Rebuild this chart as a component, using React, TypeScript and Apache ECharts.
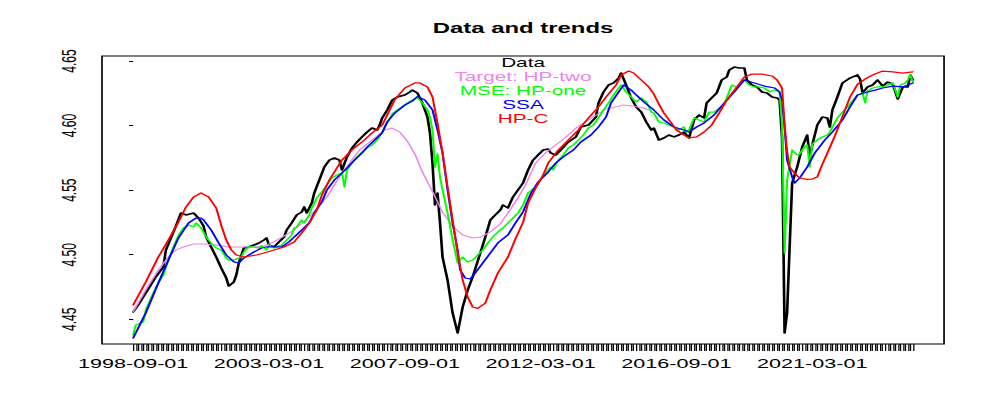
import React, { useEffect, useRef } from "react";
import * as echarts from "echarts";

// Month index 0 = 1998-09-01, last index 310 = 2024-07-01
const monthCount = 311;
const xTickMonths = [0, 54, 108, 162, 216, 270];
const xTickLabels = ["1998-09-01", "2003-03-01", "2007-09-01", "2012-03-01", "2016-09-01", "2021-03-01"];
const yTickValues = [4.45, 4.5, 4.55, 4.6, 4.65];
const yTickLabels = ["4.45", "4.50", "4.55", "4.60", "4.65"];

const chartTitle = "Data and trends";
const seriesNames = ["Data", "Target: HP-two", "MSE: HP-one", "SSA", "HP-C"];
const seriesColors = ["#000000", "#EE82EE", "#00FF00", "#0000FF", "#FF0000"];

// [month index, value]
const dataValues: [number, number][] = [
  [0, 4.4557], [2, 4.4611], [5, 4.4704], [9, 4.4828], [12, 4.4905], [13, 4.5037], [15, 4.513], [17, 4.5222],
  [19, 4.5323], [21, 4.5308], [24, 4.5323], [26, 4.5284], [28, 4.5222], [29, 4.5137], [31, 4.506], [33, 4.4982],
  [35, 4.4897], [37, 4.482], [38, 4.4758], [40, 4.4789], [41, 4.4843], [42, 4.4936], [44, 4.5052], [46, 4.506],
  [48, 4.5075], [50, 4.5091], [52, 4.5114], [53, 4.513], [54, 4.5075], [56, 4.506], [58, 4.5099], [60, 4.5137],
  [61, 4.5191], [63, 4.5246], [65, 4.5308], [67, 4.5331], [68, 4.537], [69, 4.5323], [71, 4.54], [72, 4.5478],
  [74, 4.5579], [76, 4.5679], [78, 4.5733], [80, 4.5749], [82, 4.5733], [83, 4.5656], [85, 4.5757], [87, 4.5826],
  [89, 4.5873], [91, 4.5912], [93, 4.595], [95, 4.5981], [97, 4.5966], [98, 4.6004], [99, 4.6059], [101, 4.6121],
  [103, 4.6198], [105, 4.6221], [108, 4.6237], [110, 4.626], [111, 4.6275], [113, 4.6252], [115, 4.6175], [117, 4.6066],
  [118, 4.5943], [119, 4.571], [120, 4.5385], [121, 4.5478], [122, 4.5246], [123, 4.4982], [125, 4.4804], [127, 4.4549],
  [129, 4.4394], [131, 4.4595], [133, 4.4727], [135, 4.4828], [138, 4.5013], [140, 4.5137], [142, 4.5269], [144, 4.5308],
  [146, 4.5346], [147, 4.5385], [149, 4.5362], [151, 4.5447], [153, 4.5501], [155, 4.5555], [157, 4.5656], [159, 4.5733],
  [161, 4.5772], [163, 4.5811], [165, 4.5818], [166, 4.5788], [168, 4.5772], [170, 4.5811], [173, 4.5873], [176, 4.5912],
  [178, 4.5989], [181, 4.6004], [184, 4.6066], [185, 4.6175], [187, 4.626], [189, 4.6314], [191, 4.633], [193, 4.6368],
  [194, 4.6407], [196, 4.6314], [198, 4.6214], [200, 4.6144], [202, 4.6105], [204, 4.6028], [206, 4.5966], [207, 4.5981],
  [209, 4.5888], [211, 4.5904], [213, 4.5927], [215, 4.5912], [217, 4.5927], [219, 4.595], [221, 4.5904], [223, 4.6043],
  [225, 4.6082], [227, 4.6059], [228, 4.6175], [230, 4.6214], [232, 4.6252], [234, 4.6353], [236, 4.6376], [237, 4.643],
  [239, 4.6453], [241, 4.6446], [243, 4.6446], [244, 4.6353], [246, 4.6314], [248, 4.6299], [250, 4.626], [252, 4.6252],
  [254, 4.6221], [256, 4.6214], [257, 4.6198], [258, 4.59], [259, 4.4394], [260, 4.4549], [261, 4.506], [262, 4.5555],
  [264, 4.5679], [266, 4.5834], [268, 4.5927], [269, 4.5749], [270, 4.585], [272, 4.6004], [274, 4.6066], [276, 4.6059],
  [277, 4.5989], [278, 4.6121], [280, 4.6221], [282, 4.633], [285, 4.6368], [288, 4.6392], [289, 4.636], [290, 4.6252],
  [292, 4.6299], [294, 4.6314], [296, 4.6353], [298, 4.6306], [300, 4.6337], [302, 4.6322], [304, 4.6206], [306, 4.6299],
  [308, 4.6299], [309, 4.6392], [310, 4.6353],
];

const targetHpTwoValues: [number, number][] = [
  [0, 4.4557], [5, 4.4727], [10, 4.4882], [14, 4.4982], [17, 4.5037], [20, 4.506], [24, 4.5083], [28, 4.5083],
  [33, 4.5075], [38, 4.506], [43, 4.506], [48, 4.506], [52, 4.5068], [56, 4.5099], [64, 4.5191], [70, 4.5292],
  [77, 4.5447], [83, 4.5633], [90, 4.5811], [95, 4.5888], [100, 4.5966], [103, 4.5981], [106, 4.595], [109, 4.588],
  [112, 4.578], [115, 4.564], [119, 4.549], [123, 4.533], [127, 4.522], [131, 4.5153], [135, 4.513], [138, 4.5137],
  [142, 4.5176], [146, 4.524], [149, 4.5323], [153, 4.5439], [156, 4.554], [160, 4.571], [164, 4.579], [168, 4.585],
  [172, 4.591], [176, 4.598], [180, 4.603], [184, 4.608], [188, 4.613], [191, 4.614], [195, 4.616], [199, 4.615],
  [203, 4.6136], [205, 4.612],
];

const mseHpOneValues: [number, number][] = [
  [0, 4.4379], [1, 4.4456], [4, 4.4479], [5, 4.4572], [8, 4.4704], [10, 4.4781], [12, 4.4843], [14, 4.4959],
  [16, 4.506], [18, 4.515], [20, 4.5207], [22, 4.523], [24, 4.5215], [25, 4.5246], [27, 4.5207], [29, 4.5137],
  [31, 4.5091], [33, 4.5052], [35, 4.5037], [37, 4.4975], [38, 4.4959], [40, 4.4959], [43, 4.4982], [44, 4.5021],
  [46, 4.506], [48, 4.506], [50, 4.5052], [51, 4.507], [53, 4.5037], [54, 4.5075], [56, 4.5052], [59, 4.5075],
  [61, 4.5114], [63, 4.5153], [64, 4.5207], [65, 4.5215], [67, 4.5269], [68, 4.5246], [70, 4.5308], [71, 4.5362],
  [73, 4.5439], [75, 4.5486], [77, 4.554], [79, 4.5594], [81, 4.5617], [83, 4.5633], [84, 4.5524], [85, 4.5656],
  [87, 4.571], [89, 4.5757], [91, 4.5795], [93, 4.5826], [95, 4.585], [97, 4.5888], [99, 4.595], [100, 4.5989],
  [103, 4.609], [105, 4.6121], [108, 4.6159], [111, 4.6198], [113, 4.6214], [115, 4.6175], [117, 4.6121], [118, 4.6066],
  [119, 4.5966], [120, 4.5679], [121, 4.578], [122, 4.56], [123, 4.5501], [125, 4.5323], [127, 4.5114], [129, 4.4936],
  [130, 4.4959], [131, 4.4982], [133, 4.4944], [135, 4.4959], [137, 4.4998], [139, 4.5037], [141, 4.5091], [143, 4.5137],
  [145, 4.5176], [147, 4.5207], [149, 4.5246], [151, 4.5284], [153, 4.5323], [155, 4.5385], [157, 4.5478], [160, 4.5524],
  [162, 4.5579], [164, 4.5633], [166, 4.5679], [167, 4.5656], [169, 4.5733], [171, 4.5772], [173, 4.5826], [175, 4.585],
  [177, 4.5888], [179, 4.5927], [181, 4.5981], [183, 4.6004], [185, 4.6059], [187, 4.6121], [189, 4.6175], [191, 4.6237],
  [193, 4.6291], [194, 4.6314], [196, 4.626], [198, 4.6221], [200, 4.6183], [202, 4.6214], [204, 4.6183], [206, 4.6105],
  [207, 4.6097], [209, 4.6028], [211, 4.602], [213, 4.6004], [215, 4.5989], [217, 4.5966], [219, 4.5989], [220, 4.595],
  [221, 4.5966], [223, 4.6059], [225, 4.6043], [227, 4.6028], [229, 4.6105], [231, 4.6105], [233, 4.6136], [235, 4.6159],
  [236, 4.6214], [238, 4.6314], [240, 4.6299], [242, 4.6337], [243, 4.6353], [245, 4.6314], [247, 4.6299], [249, 4.6299],
  [251, 4.6291], [253, 4.626], [255, 4.6275], [257, 4.626], [258, 4.6], [259, 4.5013], [260, 4.5579], [262, 4.5811],
  [263, 4.579], [264, 4.5772], [265, 4.578], [266, 4.5811], [267, 4.5834], [268, 4.585], [269, 4.5679], [270, 4.5857],
  [272, 4.5888], [274, 4.5912], [276, 4.5927], [277, 4.595], [278, 4.5989], [280, 4.6059], [282, 4.6105], [284, 4.6144],
  [286, 4.619], [288, 4.6237], [290, 4.6252], [291, 4.6175], [292, 4.6268], [294, 4.6291], [296, 4.6299], [298, 4.6299],
  [300, 4.6314], [302, 4.633], [304, 4.6221], [305, 4.6314], [307, 4.633], [308, 4.6353], [309, 4.6392], [310, 4.6337],
];

const ssaValues: [number, number][] = [
  [0, 4.4355], [5, 4.4549], [10, 4.4781], [14, 4.4959], [18, 4.513], [22, 4.5246], [25, 4.5284], [27, 4.5284],
  [28, 4.5269], [31, 4.5191], [34, 4.5091], [37, 4.4998], [40, 4.4944], [42, 4.4936], [44, 4.4975], [48, 4.5021],
  [51, 4.5052], [53, 4.506], [56, 4.506], [59, 4.506], [62, 4.5099], [64, 4.5137], [67, 4.5191], [70, 4.5246],
  [72, 4.5323], [75, 4.5408], [77, 4.5501], [80, 4.5579], [83, 4.5633], [85, 4.5671], [88, 4.5733], [91, 4.5788],
  [93, 4.5834], [96, 4.5888], [99, 4.5943], [101, 4.6028], [104, 4.6097], [108, 4.6159], [111, 4.619], [113, 4.6225],
  [116, 4.6198], [119, 4.6121], [121, 4.5966], [123, 4.5788], [125, 4.5501], [127, 4.5246], [129, 4.5037], [130, 4.4882],
  [132, 4.482], [134, 4.4812], [136, 4.4858], [139, 4.4936], [142, 4.5013], [145, 4.5091], [149, 4.5153], [152, 4.5246],
  [155, 4.5331], [158, 4.547], [161, 4.5563], [165, 4.564], [168, 4.571], [171, 4.5757], [175, 4.5811], [178, 4.5873],
  [182, 4.5927], [185, 4.5989], [188, 4.6066], [190, 4.6175], [193, 4.626], [195, 4.6314], [198, 4.6275], [200, 4.6237],
  [203, 4.6183], [207, 4.6121], [211, 4.6043], [215, 4.5989], [219, 4.5966], [221, 4.595], [224, 4.5989], [227, 4.602],
  [231, 4.6082], [235, 4.6175], [239, 4.626], [243, 4.6353], [247, 4.633], [251, 4.6306], [255, 4.6291], [257, 4.626],
  [258, 4.62], [259, 4.5989], [260, 4.5733], [262, 4.5602], [263, 4.5555], [265, 4.5594], [268, 4.5679], [271, 4.5788],
  [275, 4.5888], [278, 4.595], [282, 4.6043], [285, 4.6144], [288, 4.6237], [292, 4.626], [295, 4.6275], [298, 4.6291],
  [302, 4.6306], [306, 4.6299], [310, 4.633],
];

const hpCValues: [number, number][] = [
  [0, 4.4611], [5, 4.4789], [10, 4.4982], [14, 4.5114], [18, 4.5253], [21, 4.537], [24, 4.5447], [27, 4.5478],
  [30, 4.5447], [33, 4.5362], [35, 4.523], [37, 4.5114], [39, 4.5037], [41, 4.4998], [44, 4.4982], [46, 4.499],
  [49, 4.4998], [52, 4.5013], [56, 4.5037], [60, 4.506], [64, 4.5099], [67, 4.5168], [70, 4.5246], [73, 4.5346],
  [75, 4.5462], [78, 4.5579], [81, 4.5671], [83, 4.5733], [87, 4.5811], [91, 4.5873], [95, 4.5943], [99, 4.6004],
  [101, 4.6082], [104, 4.62], [108, 4.6291], [112, 4.633], [114, 4.633], [117, 4.6299], [119, 4.6221], [121, 4.602],
  [123, 4.5788], [125, 4.5524], [127, 4.5269], [129, 4.5013], [131, 4.4804], [133, 4.4673], [135, 4.4595], [137, 4.4585],
  [140, 4.4626], [142, 4.4727], [145, 4.4858], [149, 4.4982], [152, 4.5122], [155, 4.525], [157, 4.54], [160, 4.5517],
  [163, 4.5617], [165, 4.571], [169, 4.5811], [173, 4.5888], [177, 4.5966], [181, 4.6059], [185, 4.6144], [188, 4.6221],
  [192, 4.6314], [194, 4.6392], [197, 4.6423], [199, 4.6407], [202, 4.6353], [205, 4.6299], [207, 4.6244], [209, 4.6167],
  [211, 4.6097], [214, 4.602], [216, 4.5966], [219, 4.5927], [221, 4.5904], [224, 4.5912], [227, 4.595], [230, 4.6004],
  [233, 4.6097], [236, 4.6198], [240, 4.6299], [243, 4.6376], [246, 4.6399], [250, 4.6399], [254, 4.6384], [256, 4.6353],
  [258, 4.6291], [259, 4.6], [260, 4.58], [261, 4.568], [263, 4.563], [265, 4.5594], [268, 4.5583], [270, 4.5586],
  [272, 4.5602], [274, 4.57], [277, 4.583], [279, 4.592], [282, 4.607], [285, 4.622], [288, 4.632], [291, 4.636],
  [294, 4.6392], [298, 4.6422], [302, 4.6415], [306, 4.6407], [310, 4.6415],
];

const seriesValues = [dataValues, targetHpTwoValues, mseHpOneValues, ssaValues, hpCValues];
const seriesWidths = [1.6, 1.0, 1.25, 1.25, 1.25];

const FONT = '"Liberation Sans", Arial, Helvetica, sans-serif';
const STRETCH = 1.66;
const BASE_W = 600;
const H = 415;

export default function App() {
  const ref = useRef<HTMLDivElement>(null);

  useEffect(() => {
    document.body.style.margin = "0";
    if (!ref.current) return;
    const chart = echarts.init(ref.current, null, { renderer: "svg" });

    const allMonths: number[] = [];
    for (let i = 0; i < monthCount; i++) allMonths.push(i);
    const pad = (monthCount - 1) * 0.04;

    const gridLeft = 61.45;
    const gridRight = 31.3;
    const centerX = (gridLeft + (BASE_W - gridRight)) / 2;

    const legendTexts = seriesNames.map((name, i) => ({
      type: "text",
      x: centerX,
      y: 63 + i * 13.9,
      silent: true,
      style: {
        text: name,
        fill: seriesColors[i],
        font: `12.5px ${FONT}`,
        textAlign: "center",
        textVerticalAlign: "middle",
        align: "center",
        verticalAlign: "middle",
      },
    }));

    chart.setOption({
      animation: false,
      backgroundColor: "#ffffff",
      textStyle: { fontFamily: FONT },
      grid: {
        left: gridLeft,
        right: gridRight,
        top: 56,
        bottom: 71,
        show: true,
        borderColor: "#000000",
        borderWidth: 1,
        backgroundColor: "transparent",
      },
      xAxis: {
        type: "value",
        min: -pad,
        max: monthCount - 1 + pad,
        axisLine: { show: false },
        splitLine: { show: false },
        axisTick: {
          show: true,
          customValues: allMonths,
          length: 7,
          lineStyle: { color: "#000000", width: 0.75 },
        },
        axisLabel: {
          customValues: xTickMonths,
          formatter: (v: number) => {
            const idx = xTickMonths.findIndex((m) => Math.abs(m - v) < 1e-6);
            return idx >= 0 ? xTickLabels[idx] : "";
          },
          fontSize: 13,
          color: "#000000",
          margin: 13,
          fontFamily: FONT,
        },
      },
      yAxis: {
        type: "value",
        min: 4.43088,
        max: 4.65387,
        axisLine: { show: false },
        splitLine: { show: false },
        axisTick: {
          show: true,
          customValues: yTickValues,
          length: 2.5,
          lineStyle: { color: "#000000", width: 1 },
        },
        axisLabel: {
          customValues: yTickValues,
          rotate: 90,
          formatter: (v: number) => {
            const idx = yTickValues.findIndex((t) => Math.abs(t - v) < 1e-6);
            return idx >= 0 ? yTickLabels[idx] : "";
          },
          fontSize: 12,
          color: "#000000",
          margin: 14,
          fontFamily: FONT,
        },
      },
      graphic: [
        {
          type: "text",
          x: centerX,
          y: 28,
          silent: true,
          style: {
            text: chartTitle,
            fill: "#000000",
            font: `bold 14.4px ${FONT}`,
            textAlign: "center",
            textVerticalAlign: "middle",
            align: "center",
            verticalAlign: "middle",
          },
        },
        ...legendTexts,
      ],
      series: seriesValues.map((vals, i) => ({
        name: seriesNames[i],
        type: "line",
        data: vals,
        showSymbol: false,
        symbol: "none",
        silent: true,
        z: 2 + i,
        lineStyle: { color: seriesColors[i], width: seriesWidths[i], join: "round", cap: "round" },
        emphasis: { disabled: true },
      })),
    });

    return () => chart.dispose();
  }, []);

  return (
    <div
      style={{
        position: "fixed",
        left: 0,
        top: 0,
        width: BASE_W * STRETCH,
        height: H,
        overflow: "hidden",
        background: "#ffffff",
      }}
    >
      <div
        ref={ref}
        style={{ width: BASE_W, height: H, transform: `scaleX(${STRETCH})`, transformOrigin: "0 0" }}
      />
    </div>
  );
}
